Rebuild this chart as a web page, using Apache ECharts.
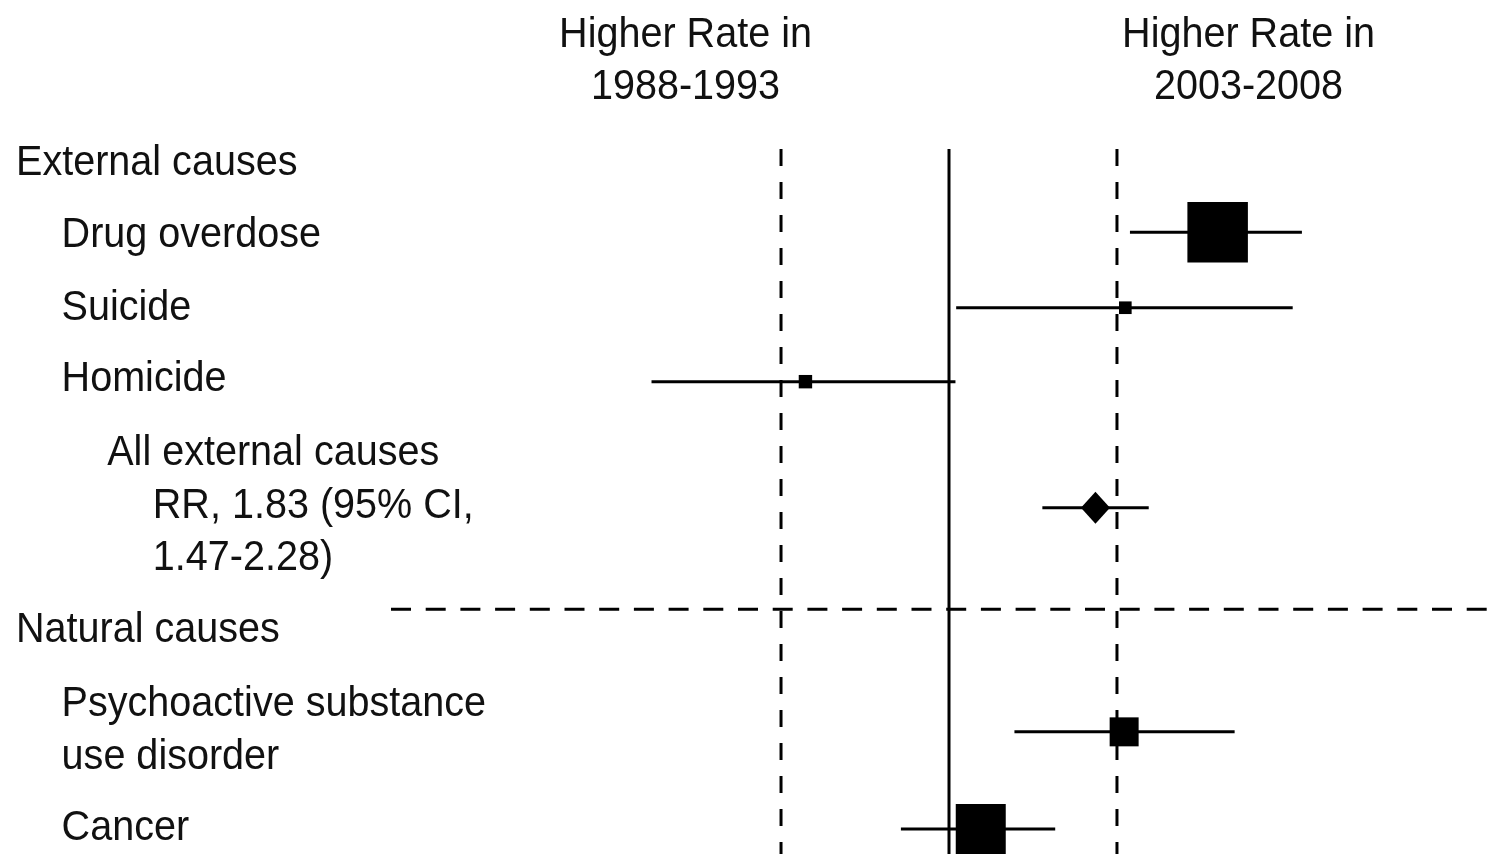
<!DOCTYPE html>
<html>
<head>
<meta charset="utf-8">
<script src="https://cdn.jsdelivr.net/npm/echarts@6/dist/echarts.min.js"></script>
<style>
html,body{margin:0;padding:0;background:#fff;}
#main{width:1492px;height:854px;}
</style>
</head>
<body>
<div id="main"></div>
<script>
// ---- data ----
const causes = ['Drug overdose', 'Suicide', 'Homicide', 'Psychoactive substance use disorder', 'Cancer'];
const causeRR = [3.03, 2.07, 0.553, 2.06, 1.14];
const causeLow = [2.11, 1.03, 0.293, 1.31, 0.82];
const causeHigh = [4.29, 4.13, 1.027, 3.25, 1.55];
const causeWeight = [36.6, 1.6, 1.8, 8.4, 25];
const causeRow = [0.97, 2.01, 3.03, 7.86, 9.2];

const pooledRR = [1.83];
const pooledLow = [1.47];
const pooledHigh = [2.28];
const pooledRow = [4.77];

const refDashed = [0.5, 2];
const refNull = [1];
const separatorRow = 6.17;

const labelLines = [
  ['External causes'],
  ['Drug overdose'],
  ['Suicide'],
  ['Homicide'],
  ['All external causes', 'RR, 1.83 (95% CI,', '1.47-2.28)'],
  ['Natural causes'],
  ['Psychoactive substance', 'use disorder'],
  ['Cancer']
];
const labelLevels = [[0], [1], [1], [1], [2, 3, 3], [0], [1, 1], [1]];
const labelRow = [0, 1.0, 2.0, 2.98, 4.73, 6.44, 7.83, 9.18];

const headerLines = [['Higher Rate in', '1988-1993'], ['Higher Rate in', '2003-2008']];

// ---- chart ----
const chart = echarts.init(document.getElementById('main'), null, {renderer: 'canvas'});
const FONT = '"Liberation Sans", Arial, sans-serif';
const FS = 43, SX = 0.92, LINE_H = 52.5, INDENT = 45.6, LEFT0 = 16;
const yTop = -0.18, yBottom = 9.7;

const option = {
  animation: false,
  backgroundColor: '#fff',
  grid: {left: 391, width: 1116, top: 17, height: 841, outerBoundsMode: 'none', containLabel: false},
  xAxis: {type: 'log', logBase: 10, min: 0.1, max: 10, show: false},
  yAxis: {type: 'value', inverse: true, min: -2, max: 9.6, show: false},
  series: [
    {
      type: 'line', symbol: 'none', silent: true,
      data: [[refNull[0], yTop], [refNull[0], yBottom]],
      lineStyle: {color: '#000', width: 3}
    },
    ...refDashed.map(v => ({
      type: 'line', symbol: 'none', silent: true,
      data: [[v, yTop], [v, yBottom]],
      lineStyle: {color: '#000', width: 3, type: [17, 16]}
    })),
    {
      type: 'line', symbol: 'none', silent: true,
      data: [[0.1, separatorRow], [10, separatorRow]],
      lineStyle: {color: '#000', width: 3, type: [20, 14.7]}
    },
    {
      type: 'custom', silent: true,
      data: causes.map((c, i) => [causeLow[i], causeHigh[i], causeRow[i]])
        .concat(pooledRR.map((v, i) => [pooledLow[i], pooledHigh[i], pooledRow[i]])),
      encode: {x: [0, 1], y: 2},
      renderItem: function (params, api) {
        const a = api.coord([api.value(0), api.value(2)]);
        const b = api.coord([api.value(1), api.value(2)]);
        return {type: 'line', shape: {x1: a[0], y1: a[1], x2: b[0], y2: b[1]},
                style: {stroke: '#000', lineWidth: 3}};
      }
    },
    {
      type: 'scatter', symbol: 'rect', silent: true,
      data: causes.map((c, i) => [causeRR[i], causeRow[i], causeWeight[i]]),
      symbolSize: v => 10 * Math.sqrt(v[2]),
      itemStyle: {color: '#000', opacity: 1}
    },
    {
      type: 'scatter', symbol: 'diamond', silent: true,
      data: pooledRR.map((v, i) => [v, pooledRow[i]]),
      symbolSize: [29, 32],
      itemStyle: {color: '#000', opacity: 1}
    }
  ]
};
chart.setOption(option);

function txt(str, x, y, align) {
  return {type: 'text', x: x, y: y, scaleX: SX, silent: true,
          style: {text: str, fontSize: FS, fontFamily: FONT, fill: '#111',
                  align: align, verticalAlign: 'middle'}};
}
const els = [];
labelLines.forEach((lines, i) => {
  const cy = chart.convertToPixel({yAxisIndex: 0}, labelRow[i]);
  const n = lines.length;
  lines.forEach((s, j) => {
    const y = cy + (j - (n - 1) / 2) * LINE_H + 1;
    els.push(txt(s, LEFT0 + labelLevels[i][j] * INDENT, y, 'left'));
  });
});
const headerX = [685.5, 1248.5];
headerLines.forEach((lines, i) => {
  lines.forEach((s, j) => els.push(txt(s, headerX[i], 35 + j * 52, 'center')));
});
chart.setOption({graphic: {elements: els}});
</script>
</body>
</html>
